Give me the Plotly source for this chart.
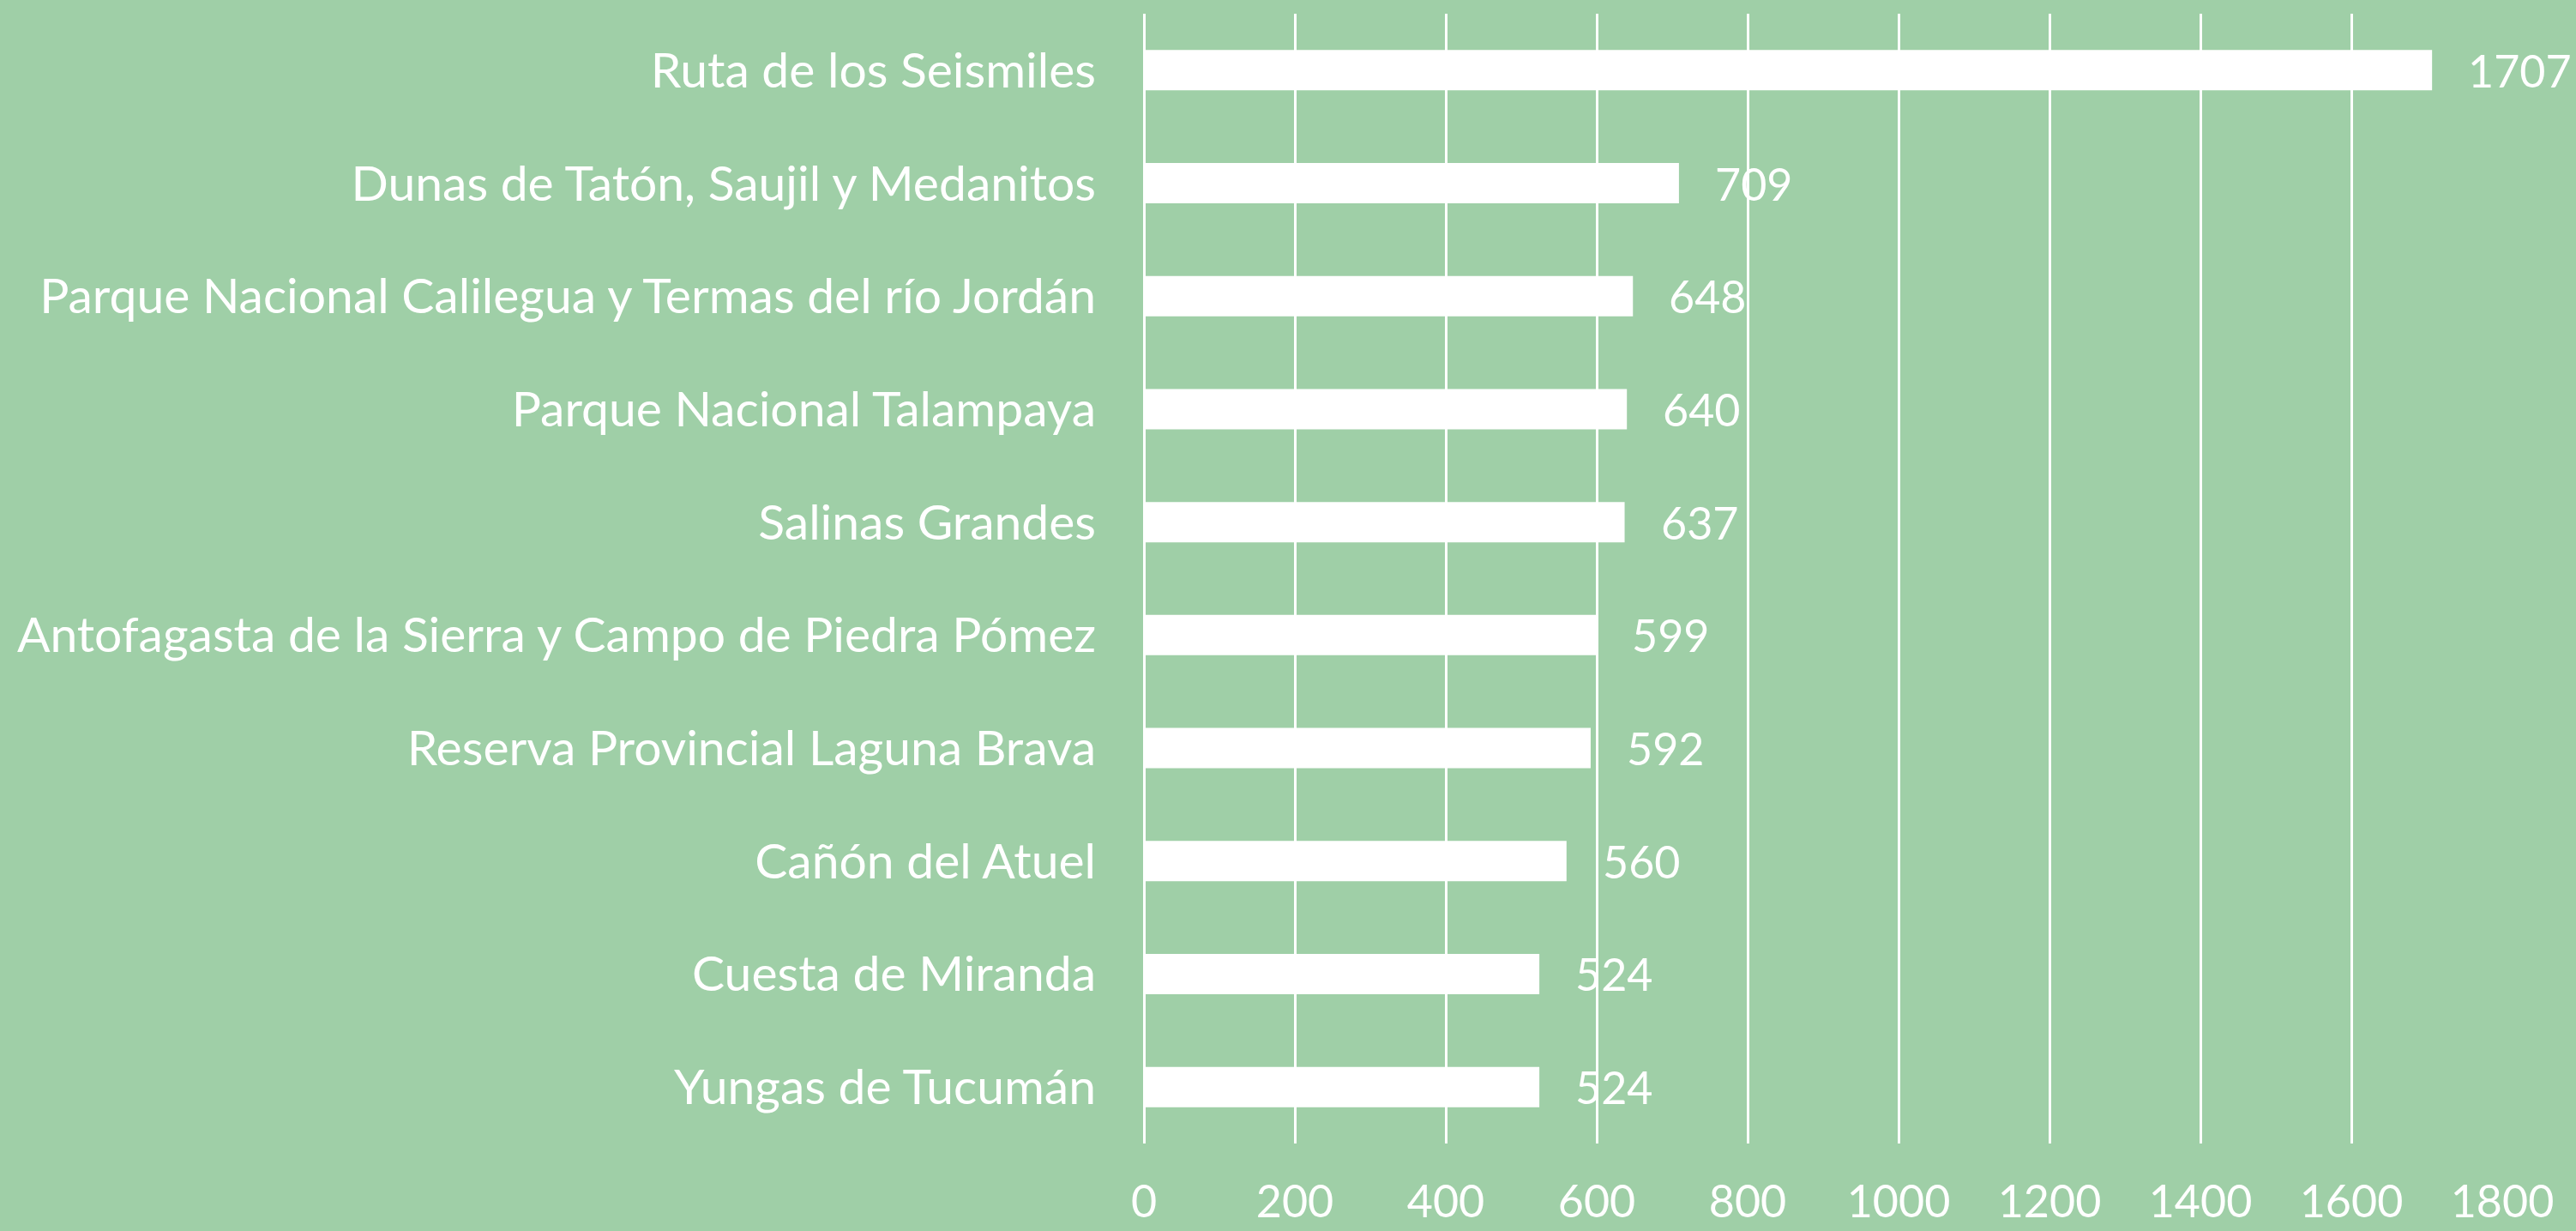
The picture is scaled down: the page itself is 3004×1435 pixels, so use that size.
import plotly.graph_objects as go

categories = [
    "Ruta de los Seismiles",
    "Dunas de Tatón, Saujil y Medanitos",
    "Parque Nacional Calilegua y Termas del río Jordán",
    "Parque Nacional Talampaya",
    "Salinas Grandes",
    "Antofagasta de la Sierra y Campo de Piedra Pómez",
    "Reserva Provincial Laguna Brava",
    "Cañón del Atuel",
    "Cuesta de Miranda",
    "Yungas de Tucumán",
]
values = [1707, 709, 648, 640, 637, 599, 592, 560, 524, 524]
x_ticks = [0, 200, 400, 600, 800, 1000, 1200, 1400, 1600, 1800]

BG = "#9fcfa7"
FONT = "Lato"

fig = go.Figure()
fig.add_trace(go.Bar(
    x=values, y=categories, orientation="h",
    marker=dict(color="white", line=dict(width=0)),
    width=0.357,
    hoverinfo="x+y",
))

for v, c in zip(values, categories):
    fig.add_annotation(
        x=v, y=c, xref="x", yref="y", text=str(v), showarrow=False,
        xanchor="left", yanchor="middle", xshift=40,
        font=dict(family=FONT, size=52, color="white"),
    )

fig.update_layout(
    width=3004, height=1435,
    paper_bgcolor=BG, plot_bgcolor=BG,
    margin=dict(l=1334, r=86, t=16, b=102, autoexpand=False),
    showlegend=False,
    font=dict(family=FONT, size=52, color="white"),
    xaxis=dict(
        range=[0, 1800], tickvals=x_ticks, ticktext=[str(t) for t in x_ticks],
        showgrid=True, gridcolor="white", gridwidth=3,
        zeroline=True, zerolinecolor="white", zerolinewidth=3,
        showline=False, ticks="", ticklabelstandoff=33, automargin=False,
        tickfont=dict(family=FONT, size=52, color="white"),
        fixedrange=True,
    ),
    yaxis=dict(
        autorange="reversed", showgrid=False, zeroline=False, showline=False,
        ticks="", ticklabelstandoff=55, automargin=False,
        tickfont=dict(family=FONT, size=57, color="white"),
    ),
    bargap=0.643,
)

fig.write_html(
    "out.html",
    config={"displayModeBar": False},
    post_script="document.body.style.margin='0';document.body.style.background='%s';" % BG,
)
